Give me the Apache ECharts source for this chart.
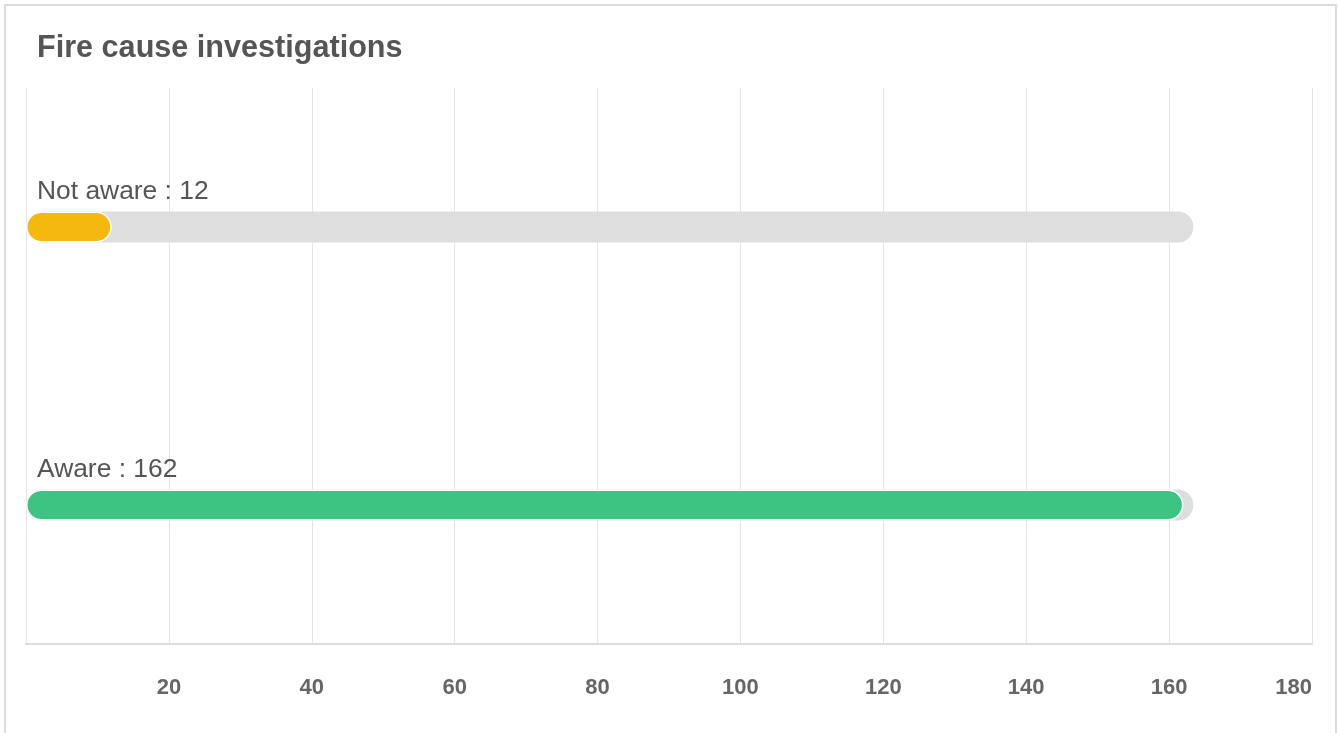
<!DOCTYPE html>
<html>
<head>
<meta charset="utf-8">
<script src="https://cdn.jsdelivr.net/npm/echarts@6/dist/echarts.min.js"></script>
<style>
html,body{margin:0;padding:0;background:#fff;width:1338px;height:733px;overflow:hidden;}
#chart{position:absolute;left:0;top:0;width:1338px;height:733px;}
#card{position:absolute;left:4px;top:4px;width:1333px;height:760px;border:2px solid #dcdcdc;border-bottom:none;box-sizing:border-box;pointer-events:none;}
</style>
</head>
<body>
<div id="chart"></div>
<div id="card"></div>
<script>
const categories = ['Aware', 'Not aware'];
const values = [162, 12];
const colors = ['#3ec482', '#f4b80f'];
const trackValues = [163.4, 163.4];
const xTicks = { min: 0, max: 180, interval: 20 };

const chart = echarts.init(document.getElementById('chart'), null, { renderer: 'canvas' });
const font = '"Liberation Sans", Arial, Helvetica, sans-serif';
chart.setOption({
  animation: false,
  textStyle: { fontFamily: font },
  title: {
    text: 'Fire cause investigations',
    left: 32, top: 28,
    textStyle: { fontFamily: font, fontSize: 30.6, fontWeight: 'bold', color: '#555' }
  },
  grid: { left: 26, right: 26, top: 88, bottom: 89, containLabel: false },
  xAxis: {
    type: 'value',
    min: xTicks.min, max: xTicks.max, interval: xTicks.interval,
    axisLine: { show: true, lineStyle: { color: '#dcdcdc', width: 2 } },
    axisTick: { show: false },
    splitLine: { show: true, lineStyle: { color: '#e4e4e4', width: 1 } },
    axisLabel: {
      showMinLabel: false, margin: 33,
      alignMaxLabel: 'right',
      fontFamily: font, fontSize: 22, fontWeight: 'bold', color: '#666'
    }
  },
  yAxis: {
    type: 'category',
    data: categories,
    axisLine: { show: false },
    axisTick: { show: false },
    axisLabel: { show: false },
    splitLine: { show: false }
  },
  series: [
    {
      type: 'bar',
      data: trackValues,
      barWidth: 31,
      barGap: '-100%',
      silent: true,
      z: 1,
      itemStyle: { color: '#dedede', borderRadius: 15.5 }
    },
    {
      type: 'bar',
      data: values.map((v, i) => ({ value: v, itemStyle: { color: colors[i] } })),
      barWidth: 31,
      z: 2,
      itemStyle: { borderRadius: 15.5, borderColor: '#fff', borderWidth: 1.5 },
      label: {
        show: true,
        position: [11, -33],
        formatter: '{b} : {c}',
        fontFamily: font, fontSize: 26.4, color: '#555'
      }
    }
  ]
});
</script>
</body>
</html>
